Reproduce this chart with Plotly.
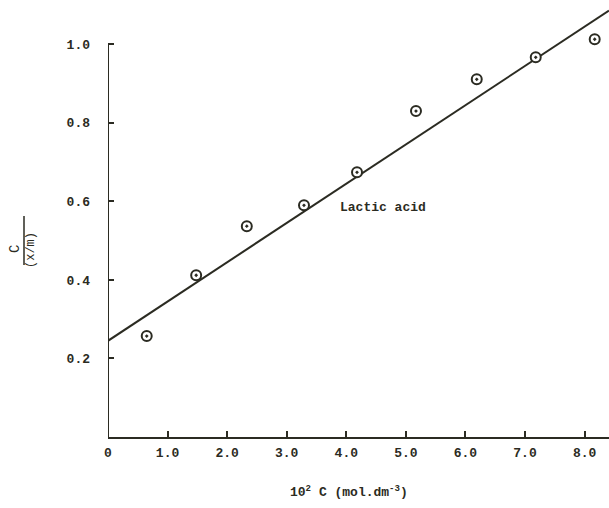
import plotly.graph_objects as go

# Data
conc = [0.65, 1.48, 2.33, 3.29, 4.18, 5.17, 6.19, 7.18, 8.17]
ratio = [0.257, 0.412, 0.537, 0.590, 0.674, 0.830, 0.911, 0.967, 1.013]
fit_x = [0.0, 8.41]
fit_y = [0.245, 1.086]
x_ticks = [0, 1, 2, 3, 4, 5, 6, 7, 8]
x_tick_labels = ["0", "1.0", "2.0", "3.0", "4.0", "5.0", "6.0", "7.0", "8.0"]
y_ticks = [0.2, 0.4, 0.6, 0.8, 1.0]
y_tick_labels = ["0.2", "0.4", "0.6", "0.8", "1.0"]

INK = "#2b2b22"
FONT = "Liberation Mono"

fig = go.Figure()
fig.add_trace(go.Scatter(x=fit_x, y=fit_y, mode="lines",
                         line=dict(color=INK, width=2), showlegend=False))
fig.add_trace(go.Scatter(x=conc, y=ratio, mode="markers", showlegend=False,
                         marker=dict(symbol="circle-dot", size=10, color="white",
                                     line=dict(color=INK, width=2))))

fig.add_shape(type="line", xref="x", yref="y", x0=0, x1=0, y0=0, y1=1.0,
              line=dict(color=INK, width=2))

fig.add_annotation(x=4.61, y=0.585, xref="x", yref="y", text="<b>Lactic acid</b>",
                   showarrow=False, font=dict(family=FONT, size=13, color=INK))

# y-axis title as a fraction C / (x/m)  (plot area: x 108..609, y 9..437 px)
fig.add_annotation(x=(15 - 108) / 501, y=(437 - 249) / 428, xref="paper", yref="paper",
                   text="C", showarrow=False, textangle=-90,
                   xanchor="center", yanchor="middle",
                   font=dict(family=FONT, size=14, color=INK))
fig.add_annotation(x=(31 - 108) / 501, y=(437 - 250) / 428, xref="paper", yref="paper",
                   text="(x/m)", showarrow=False, textangle=-90,
                   xanchor="center", yanchor="middle",
                   font=dict(family=FONT, size=12, color=INK))
fig.add_shape(type="line", xref="paper", yref="paper",
              x0=(24 - 108) / 501, x1=(24 - 108) / 501,
              y0=(437 - 216) / 428, y1=(437 - 265) / 428,
              line=dict(color=INK, width=1.5))

fig.add_annotation(x=(349 - 108) / 501, y=(437 - 492) / 428, xref="paper", yref="paper",
                   text="<b>10<sup>2</sup> C (mol.dm<sup>-3</sup>)</b>",
                   xanchor="center", yanchor="middle",
                   showarrow=False, font=dict(family=FONT, size=13, color=INK))

fig.update_layout(
    width=609, height=508,
    margin=dict(l=108, r=0, t=9, b=71),
    plot_bgcolor="white", paper_bgcolor="white",
    font=dict(family=FONT, size=13, color=INK),
    xaxis=dict(range=[0, 8.41], tickvals=x_ticks, ticktext=x_tick_labels,
               ticks="inside", ticklen=6, tickwidth=2, tickcolor=INK,
               showline=True, linecolor=INK, linewidth=2, showgrid=False,
               zeroline=False, ticklabelstandoff=2,
               tickfont=dict(family=FONT, size=13, color=INK, weight="bold")),
    yaxis=dict(range=[0, 1.09], tickvals=y_ticks, ticktext=y_tick_labels,
               ticks="inside", ticklen=6, tickwidth=2, tickcolor=INK,
               showline=False, showgrid=False, zeroline=False,
               ticklabelstandoff=17,
               tickfont=dict(family=FONT, size=13, color=INK, weight="bold")),
)
fig.write_html("out.html", config={"displayModeBar": False},
               post_script="document.body.style.margin='0';document.body.style.overflow='hidden';")
